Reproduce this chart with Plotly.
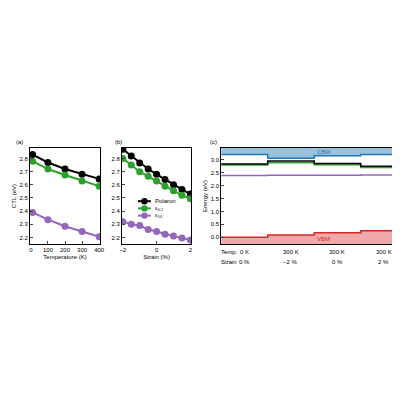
import plotly.graph_objects as go

temps = [10, 100, 200, 300, 400]
a_pol = [2.83, 2.77, 2.72, 2.68, 2.645]
a_g = [2.78, 2.72, 2.675, 2.63, 2.59]
a_p = [2.39, 2.335, 2.285, 2.245, 2.205]

strain = [-2, -1.5, -1, -0.5, 0, 0.5, 1, 1.5, 2]
b_pol = [2.87, 2.82, 2.765, 2.72, 2.68, 2.64, 2.60, 2.565, 2.53]
b_g = [2.80, 2.75, 2.70, 2.665, 2.63, 2.59, 2.555, 2.52, 2.495]
b_p = [2.32, 2.30, 2.29, 2.26, 2.245, 2.225, 2.21, 2.195, 2.18]

seg = [0, 1, 2, 3, 4]
cbm = [3.20, 3.05, 3.15, 3.20]
vbm = [0.0, 0.09, 0.17, 0.25]
c_pol = [2.83, 2.95, 2.85, 2.74]
c_g = [2.79, 2.88, 2.80, 2.70]
c_p = [2.39, 2.40, 2.40, 2.41]
temp_lbl = ["0 K", "300 K", "300 K", "300 K"]
strain_lbl = ["0 %", "\u22122 %", "0 %", "2 %"]
legend_names = ["Polaron", "ε<sub>0/-1</sub>", "ε<sub>1/0</sub>"]

BLACK, GREEN, PURPLE = "black", "#2ca02c", "#9467bd"
BLUE, RED = "#1f77b4", "#d62728"

fig = go.Figure()

def line(x, y, color, xa, ya):
    fig.add_trace(go.Scatter(x=x, y=y, mode="lines+markers",
                             line=dict(color=color, width=2), marker=dict(size=7, color=color),
                             xaxis=xa, yaxis=ya, showlegend=False))

line(temps, a_pol, BLACK, "x", "y")
line(temps, a_g, GREEN, "x", "y")
line(temps, a_p, PURPLE, "x", "y")
line(strain, b_pol, BLACK, "x2", "y2")
line(strain, b_g, GREEN, "x2", "y2")
line(strain, b_p, PURPLE, "x2", "y2")

def step(y, color, fill=None, fillcolor=None, width=1.5):
    fig.add_trace(go.Scatter(x=seg, y=y + [y[-1]], mode="lines", line_shape="hv",
                             line=dict(color=color, width=width), fill=fill, fillcolor=fillcolor,
                             xaxis="x3", yaxis="y3", showlegend=False))

top = 3.45
bot = -0.26
step([top] * 4, "rgba(0,0,0,0)", width=0)
step(cbm, BLUE, fill="tonexty", fillcolor="rgba(31,119,180,0.45)")
step([bot] * 4, "rgba(0,0,0,0)", width=0)
step(vbm, RED, fill="tonexty", fillcolor="rgba(214,39,40,0.4)")
step(c_g, GREEN)
step(c_pol, BLACK)
step(c_p, PURPLE)

ax = dict(showline=True, linecolor="black", mirror=True, ticks="inside", ticklen=3,
          showgrid=False, zeroline=False, tickfont=dict(size=6), automargin=False)
dom = [0.41, 0.65]
fig.update_layout(
    width=400, height=400, plot_bgcolor="white", paper_bgcolor="white",
    font=dict(family="Liberation Sans", size=6, color="black"),
    margin=dict(l=0, r=0, t=0, b=0), showlegend=False,
    xaxis=dict(ax, domain=[0.055, 0.23], range=[-5, 405], tickvals=[0, 100, 200, 300, 400],
               title=dict(text="Temperature (K)", standoff=2, font=dict(size=6))),
    yaxis=dict(ax, domain=dom, range=[2.15, 2.88], dtick=0.1, tickformat=".1f",
               title=dict(text="CTL (eV)", standoff=2, font=dict(size=6))),
    xaxis2=dict(ax, domain=[0.285, 0.458], range=[-2.05, 2.05], tickvals=[-2, 0, 2],
                ticktext=["\u22122", "0", "2"],
                title=dict(text="Strain (%)", standoff=2, font=dict(size=6))),
    yaxis2=dict(ax, anchor="x2", domain=dom, range=[2.15, 2.88], dtick=0.1,
                tickformat=".1f"),
    xaxis3=dict(ax, domain=[0.533, 0.998], range=[0, 4], showticklabels=False, ticks=""),
    yaxis3=dict(ax, anchor="x3", domain=dom, range=[bot, top], dtick=0.5,
                tickformat=".1f", title=dict(text="Energy (eV)", standoff=2, font=dict(size=6))),
)

# hand-made legend in panel (b)
for i, (name, col) in enumerate(zip(legend_names, [BLACK, GREEN, PURPLE])):
    ly = 0.517 - i * 0.018
    fig.add_shape(type="line", xref="paper", yref="paper", x0=0.325, x1=0.357, y0=ly, y1=ly,
                  line=dict(color=col, width=2))
    fig.add_shape(type="circle", xref="paper", yref="paper", x0=0.333, x1=0.349,
                  y0=ly - 0.008, y1=ly + 0.008, fillcolor=col, line=dict(color=col, width=0))
    fig.add_annotation(text=name, x=0.362, y=ly, xref="paper", yref="paper", showarrow=False,
                       xanchor="left", font=dict(size=6 if i == 0 else 5))

anns = [("(a)", 0.015), ("(b)", 0.262), ("(c)", 0.5)]
for t, x in anns:
    fig.add_annotation(text=t, x=x, y=0.652, xref="paper", yref="paper", showarrow=False,
                       xanchor="left", yanchor="bottom", font=dict(size=6))
fig.add_annotation(text="CBM", x=2.2, y=3.3, xref="x3", yref="y3", showarrow=False,
                   font=dict(size=6, color=BLUE))
fig.add_annotation(text="VBM", x=2.2, y=-0.08, xref="x3", yref="y3", showarrow=False,
                   font=dict(size=6, color=RED))
for row, lbls, y in [("Temp.", temp_lbl, 0.39), ("Strain", strain_lbl, 0.365)]:
    fig.add_annotation(text=row, x=0.528, y=y, xref="paper", yref="paper", showarrow=False,
                       xanchor="left", font=dict(size=6))
    for i, l in enumerate(lbls):
        fig.add_annotation(text=l, x=i + 0.5, y=y, xref="x3", yref="paper", showarrow=False,
                           font=dict(size=6))

fig.write_html("out.html")
